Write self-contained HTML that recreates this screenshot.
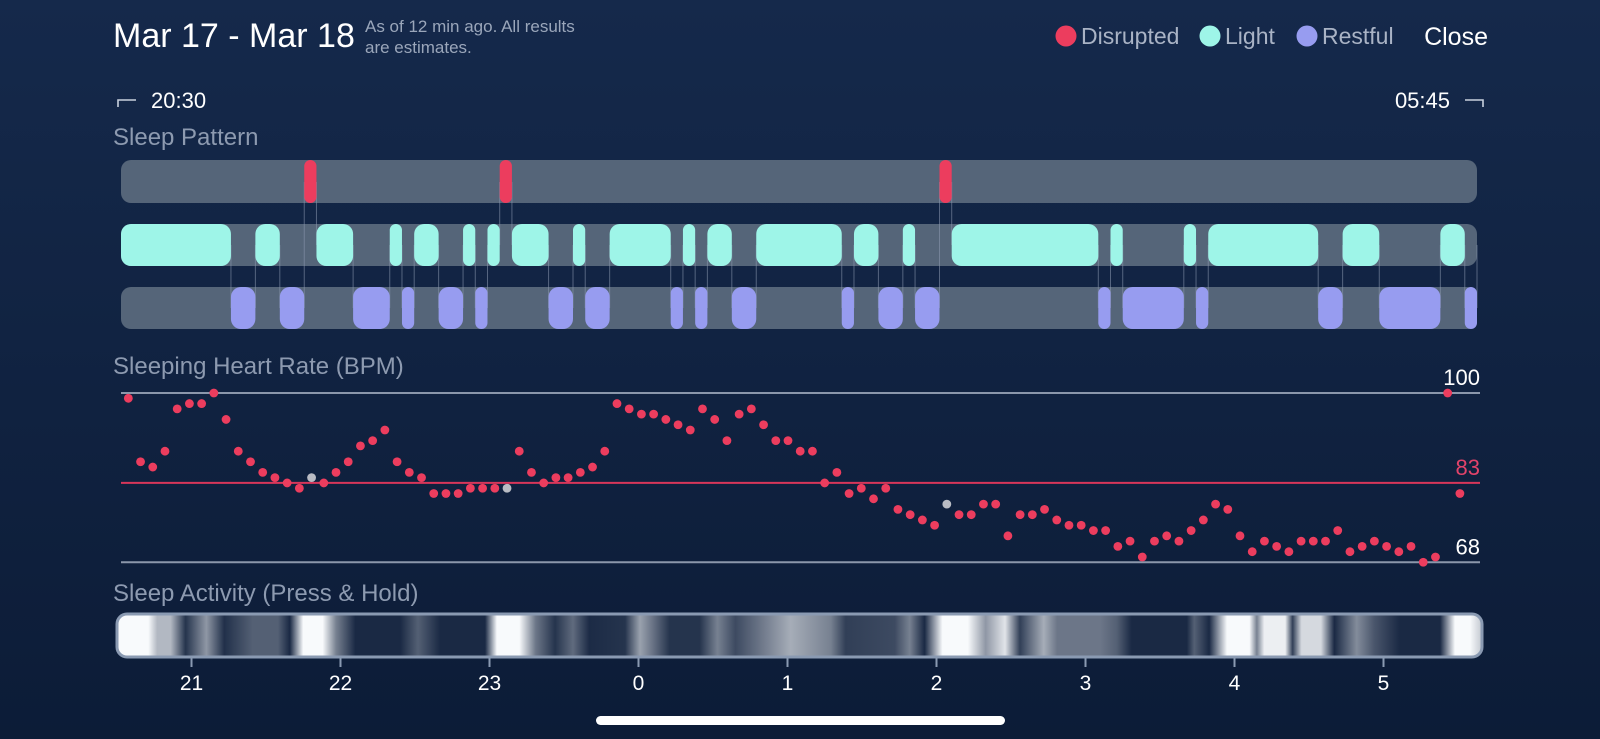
<!DOCTYPE html>
<html><head><meta charset="utf-8"><style>
html,body{margin:0;padding:0;}
body{width:1600px;height:739px;overflow:hidden;background:#0f2142;font-family:"Liberation Sans",sans-serif;}
svg{display:block;}
</style></head><body>
<svg id="chart" width="1600" height="739" viewBox="0 0 1600 739" xmlns="http://www.w3.org/2000/svg">
<defs>
<linearGradient id="bg" x1="0" y1="0" x2="0" y2="1"><stop offset="0" stop-color="#15294b"/><stop offset="1" stop-color="#0c1c37"/></linearGradient>
<linearGradient id="actgrad" x1="0" y1="0" x2="1" y2="0"></linearGradient>
</defs>
<rect x="0" y="0" width="1600" height="739" fill="url(#bg)"/>
<text x="113" y="47" font-size="34" fill="#ffffff">Mar 17 - Mar 18</text>
<text x="365" y="32" font-size="17" fill="#9aa6ba">As of 12 min ago. All results</text>
<text x="365" y="53" font-size="17" fill="#9aa6ba">are estimates.</text>
<g>
<circle cx="1066" cy="36" r="10.5" fill="#ec3d5e"/>
<text x="1081" y="44" font-size="23" fill="#a9b3c5">Disrupted</text>
<circle cx="1210" cy="36" r="10.5" fill="#9ef5e8"/>
<text x="1225" y="44" font-size="23" fill="#a9b3c5">Light</text>
<circle cx="1307" cy="36" r="10.5" fill="#979cf0"/>
<text x="1322" y="44" font-size="23" fill="#a9b3c5">Restful</text>
</g>
<text x="1488" y="45" font-size="25" fill="#ffffff" text-anchor="end">Close</text>
<path d="M118 107 V100 H136" stroke="#c9d1de" stroke-width="1.6" fill="none"/>
<text x="151" y="108" font-size="22" fill="#ffffff">20:30</text>
<text x="1450" y="108" font-size="22" fill="#ffffff" text-anchor="end">05:45</text>
<path d="M1465 100 H1483 V107" stroke="#c9d1de" stroke-width="1.6" fill="none"/>
<text x="113" y="145" font-size="24" fill="#8d9ab0">Sleep Pattern</text>
<text x="113" y="374" font-size="24" fill="#8d9ab0">Sleeping Heart Rate (BPM)</text>
<text x="113" y="601" font-size="24" fill="#8d9ab0">Sleep Activity (Press &amp; Hold)</text>
<g id="pattern"></g>
<g id="hr"></g>
<g id="act"></g>
<rect x="596" y="716" width="409" height="9" rx="4.5" fill="#ffffff"/>
</svg>
<script>
// ---- Sleep pattern data (minutes since 20:30) ----
const disruptedStart = [75, 155, 335];
const disruptedEnd   = [80, 160, 340];
const lightStart = [0,55,80,110,120,140,150,160,185,200,230,240,260,300,320,340,405,435,445,500,540];
const lightEnd   = [45,65,95,115,130,145,155,175,190,225,235,250,295,310,325,400,410,440,490,515,550];
const restStart = [45,65,95,115,130,145,175,190,225,235,250,295,310,325,400,410,440,490,515,550];
const restEnd   = [55,75,110,120,140,150,185,200,230,240,260,300,320,335,405,435,445,500,540,555];
// ---- Heart rate data: one reading every 5 min starting 20:33 ----
const hrStartMin = 3;
const hrStepMin = 5;
const hrValues = [99,87,86,89,97,98,98,100,95,89,87,85,84,83,82,84,83,85,87,90,91,93,87,85,84,81,81,81,82,82,82,82,89,85,83,84,84,
85,86,89,98,97,96,96,95,94,93,97,95,91,96,97,94,91,91,89,89,83,85,81,82,80,82,78,77,76,75,79,77,77,79,79,73,
77,77,78,76,75,75,74,74,71,72,69,72,73,72,74,76,79,78,73,70,72,71,70,72,72,72,74,70,71,72,71,70,71,68,69,100,81];
const hrGrayIdx = [15,31,67];
const hrRefValues = [100,83,68];
const hrRefLabels = ["100","83","68"];
// ---- Axis ----
const hourTicks = [21,22,23,24,25,26,27,28,29];
const hourLabels = ["21","22","23","0","1","2","3","4","5"];
// ---- Activity intensity (hour, 0..1) ----
const actHours = [20.53,20.71,20.77,20.86,20.96,21.10,21.22,21.41,21.58,21.66,21.75,21.88,21.97,22.10,22.40,22.52,22.67,22.97,23.05,23.20,23.31,23.44,23.56,23.67,23.91,24.01,24.09,24.21,24.41,24.53,24.65,24.82,25.02,25.29,25.39,25.72,25.82,25.92,26.04,26.21,26.33,26.46,26.56,26.72,26.81,27.10,27.21,27.31,27.68,27.73,27.83,27.95,28.10,28.15,28.20,28.34,28.39,28.45,28.58,28.67,28.82,28.94,29.11,29.38,29.48,29.58,29.65];
const actLevels = [1,1,0.7,0.7,0.1,0.55,0.08,0.3,0.3,0.05,1,1,0.45,0.05,0.05,0.3,0.05,0.05,1,1,0.4,0.1,0.35,0.06,0.1,0.6,0.4,0.1,0.1,0.45,0.2,0.4,0.65,0.45,0.15,0.2,0.45,0.05,1,1,0.55,0.9,0.15,0.65,0.4,0.4,0.3,0.05,0.05,0.3,0.05,1,1,0.45,0.95,0.95,0.15,0.85,0.85,0.05,0.5,0.25,0.05,0.05,1,1,0.8];

const NS = "http://www.w3.org/2000/svg";
function mk(tag, parent, attrs){const e=document.createElementNS(NS,tag);for(const k in attrs)e.setAttribute(k,attrs[k]);parent.appendChild(e);return e;}
const TRACK_X0 = 121, TRACK_X1 = 1477, PX_PER_MIN = (TRACK_X1-TRACK_X0)/555;
function xMin(m){return TRACK_X0 + m*PX_PER_MIN;}
function xHour(h){return 191.5 + (h-21)*149;}
function yHR(v){return 393 + (100-v)*5.29;}

// Sleep pattern
const pat = document.getElementById('pattern');
const rows = [{y:160,h:43,name:'disrupted'},{y:224,h:42,name:'light'},{y:287,h:42,name:'restful'}];
rows.forEach(r=>{
  const t = mk('rect', pat, {x:TRACK_X0,y:r.y,width:TRACK_X1-TRACK_X0,height:r.h,rx:10,fill:'#556579'});
  
  
});
function connectors(starts, ends, y1, y2){
  for(let i=0;i<starts.length;i++){
    [starts[i], ends[i]].forEach(m=>{
      const l = mk('line', pat, {x1:xMin(m),x2:xMin(m),y1:y1,y2:y2,stroke:'#8e9bb2','stroke-width':1,'stroke-opacity':0.55});
      
      
    });
  }
}
connectors(disruptedStart, disruptedEnd, 182, 245);
connectors(restStart, restEnd, 245, 308);
function segs(starts, ends, row, color, name){
  for(let i=0;i<starts.length;i++){
    const x=xMin(starts[i]), w=xMin(ends[i])-x;
    const s = mk('rect', pat, {x:x,y:row.y,width:w,height:row.h,rx:Math.min(10,w/2),fill:color});
    
    
  }
}
segs(disruptedStart, disruptedEnd, rows[0], '#ec3d5e', 'disrupted');
segs(lightStart, lightEnd, rows[1], '#9ef5e8', 'light');
segs(restStart, restEnd, rows[2], '#979cf0', 'restful');

// Heart rate
const hr = document.getElementById('hr');
const refColors = ['#8b97ab','#d8365a','#8b97ab'];
const labColors = ['#ffffff','#e2436a','#ffffff'];
hrRefValues.forEach((v,i)=>{
  const l = mk('line', hr, {x1:121,x2:1480,y1:yHR(v),y2:yHR(v),stroke:refColors[i],'stroke-width':2});
  
  
  const t = mk('text', hr, {x:1480,y:yHR(v)-8,'font-size':22,fill:labColors[i],'text-anchor':'end'});
  t.textContent = hrRefLabels[i];
  
  
});
hrValues.forEach((v,i)=>{
  const gray = hrGrayIdx.indexOf(i)>=0;
  const c = mk('circle', hr, {cx:xMin(hrStartMin+i*hrStepMin),cy:yHR(v),r:4.4,fill:gray?'#b9bcc4':'#ec3d5e'});
  
  
});

// Activity bar
const ACT_X0=117, ACT_X1=1482;
const grad = document.getElementById('actgrad');
function mixColor(a){const d=[14,30,58],w=[248,250,252];return 'rgb('+d.map((c,i)=>Math.round(c+(w[i]-c)*a)).join(',')+')';}
actHours.forEach((h,i)=>{
  const off = Math.max(0,Math.min(1,(xHour(h)-ACT_X0)/(ACT_X1-ACT_X0)));
  mk('stop', grad, {offset:off,'stop-color':mixColor(actLevels[i])});
});
const act = document.getElementById('act');
const bar = mk('rect', act, {x:ACT_X0,y:614,width:ACT_X1-ACT_X0,height:43,rx:10,fill:'url(#actgrad)',stroke:'#8a9ab2','stroke-width':3});


hourTicks.forEach((h,i)=>{
  const x = xHour(h);
  const tk = mk('line', act, {x1:x,x2:x,y1:658,y2:667,stroke:'#8a9ab2','stroke-width':2});
  
  
  const t = mk('text', act, {x:x,y:690,'font-size':21,fill:'#ffffff','text-anchor':'middle'});
  t.textContent = hourLabels[i];
  
  
});
</script>
</body></html>
